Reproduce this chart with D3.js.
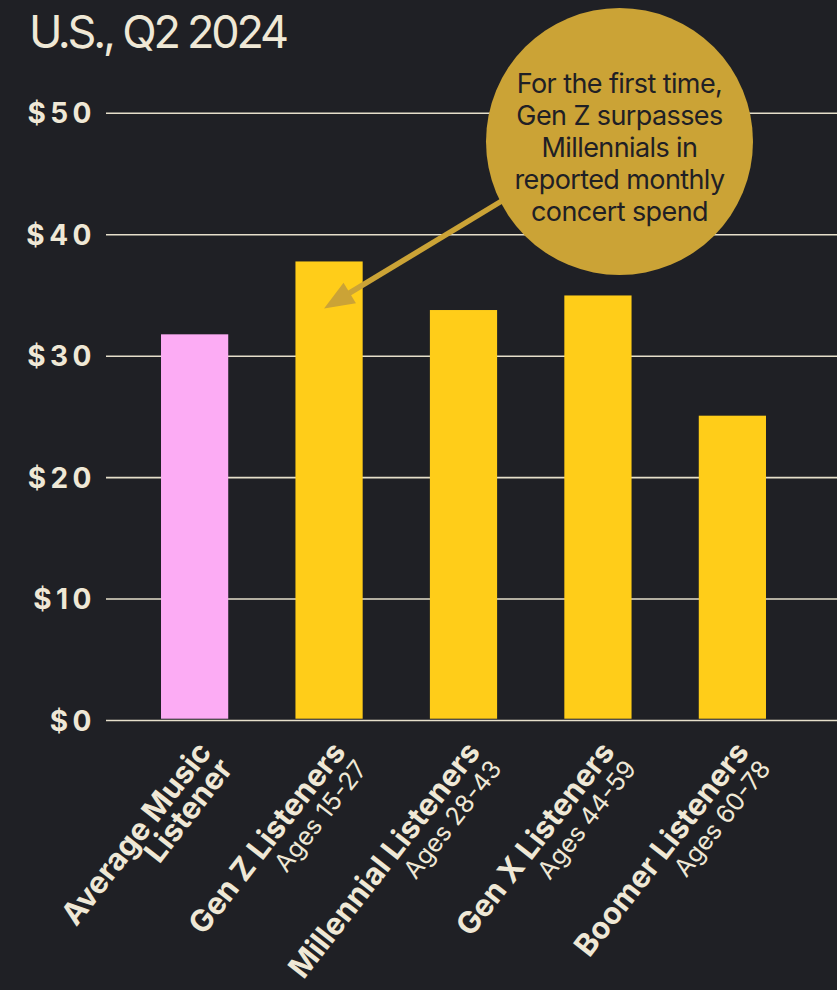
<!DOCTYPE html>
<html>
<head>
<meta charset="utf-8">
<script src="https://cdn.jsdelivr.net/npm/d3@7"></script>
<style>
  html, body { margin: 0; padding: 0; background: #1f2025; }
  svg { display: block; }
</style>
</head>
<body>
<svg id="chart" width="837" height="990"></svg>
<script>
// Monthly concert spend by listener generation, U.S., Q2 2024
const categories = ["Average Music Listener", "Gen Z Listeners", "Millennial Listeners", "Gen X Listeners", "Boomer Listeners"];
const nameLines = [["Average Music", "Listener"], ["Gen Z Listeners"], ["Millennial Listeners"], ["Gen X Listeners"], ["Boomer Listeners"]];
const ageLabels = ["", "Ages 15-27", "Ages 28-43", "Ages 44-59", "Ages 60-78"];
const spend = [31.8, 37.8, 33.8, 35.0, 25.1];
const barColors = ["#fcacf4", "#ffcd19", "#ffcd19", "#ffcd19", "#ffcd19"];
const yTicks = [0, 10, 20, 30, 40, 50];
const title = "U.S., Q2 2024";
const noteLines = ["For the first time,", "Gen Z surpasses", "Millennials in", "reported monthly", "concert spend"];
const noteTarget = "Gen Z Listeners";

const W = 837, H = 990;
const bg = "#1f2025", cream = "#efe8d6", gold = "#cba336";
const font = "Inter, 'Noto Sans', sans-serif";

const svg = d3.select("#chart");
svg.append("rect").attr("width", W).attr("height", H).attr("fill", bg);

const y = d3.scaleLinear().domain([0, 50]).range([720.5, 113.3]);
const x = d3.scaleBand().domain(categories).range([127.4, 799.6]).paddingInner(0.5).paddingOuter(0.25);

// title
svg.append("text")
  .attr("x", 29).attr("y", 48)
  .attr("font-family", font)
  .attr("font-size", 45)
  .attr("letter-spacing", -3.2)
  .attr("fill", cream)
  .text(title);

// gridlines
svg.append("g").selectAll("line").data(yTicks).join("line")
  .attr("x1", 106).attr("x2", W)
  .attr("y1", d => y(d)).attr("y2", d => y(d))
  .attr("stroke", "#e6dfcb").attr("stroke-width", 1.6);

// y labels
svg.append("g").selectAll("text").data(yTicks).join("text")
  .attr("x", 96).attr("y", d => y(d)).attr("dy", "0.36em")
  .attr("text-anchor", "end")
  .attr("font-family", font)
  .attr("font-weight", 700).attr("font-size", 28)
  .attr("letter-spacing", 4.5)
  .attr("fill", cream)
  .text(d => "$" + d);

// bars
svg.append("g").selectAll("rect").data(categories).join("rect")
  .attr("x", d => x(d))
  .attr("width", x.bandwidth())
  .attr("y", (d, i) => y(spend[i]))
  .attr("height", (d, i) => y(0) - y(spend[i]) - 1.8)
  .attr("fill", (d, i) => barColors[i]);

// rotated category labels
const lbl = svg.append("g").selectAll("g").data(categories).join("g")
  .attr("transform", d => `translate(${x(d) + x.bandwidth() / 2 + 18},${y(0) + 32}) rotate(-52)`);
lbl.each(function (d, i) {
  const t = d3.select(this).append("text")
    .attr("text-anchor", "end")
    .attr("font-family", font)
    .attr("fill", cream);
  nameLines[i].forEach((s, k) => {
    t.append("tspan").attr("x", 0).attr("y", k * 27)
      .attr("font-weight", 700).attr("font-size", 30.5)
      .text(s);
  });
  if (ageLabels[i] !== "") {
    t.append("tspan").attr("x", 0).attr("y", 27)
      .attr("font-weight", 400).attr("font-size", 25)
      .text(ageLabels[i]);
  }
});

// annotation bubble with arrow to Gen Z bar
const gi = categories.indexOf(noteTarget);
const tip = [x(noteTarget) + x.bandwidth() / 2 - 5, y(spend[gi]) + 47];
const start = [505, 199];
const dx = start[0] - tip[0], dy = start[1] - tip[1];
const len = Math.hypot(dx, dy);
const ux = dx / len, uy = dy / len;
const headLen = 30, headHalf = 12;
const base = [tip[0] + ux * headLen, tip[1] + uy * headLen];
const ann = svg.append("g");
ann.append("line")
  .attr("x1", start[0]).attr("y1", start[1])
  .attr("x2", base[0] - ux * 2).attr("y2", base[1] - uy * 2)
  .attr("stroke", gold).attr("stroke-width", 5.5);
ann.append("path")
  .attr("d", d3.line()([
    tip,
    [base[0] + uy * headHalf, base[1] - ux * headHalf],
    [base[0] - uy * headHalf, base[1] + ux * headHalf]
  ]) + "Z")
  .attr("fill", gold);

const cx = 619.5, cy = 141.5, r = 133.5;
ann.append("circle").attr("cx", cx).attr("cy", cy).attr("r", r).attr("fill", gold);
ann.append("text")
  .attr("text-anchor", "middle")
  .attr("font-family", font)
  .attr("font-size", 27)
  .attr("letter-spacing", -0.6)
  .attr("fill", "#1f2025")
  .selectAll("tspan").data(noteLines).join("tspan")
  .attr("x", cx).attr("y", (d, i) => 92.5 + i * 32)
  .text(d => d);
</script>
</body>
</html>
